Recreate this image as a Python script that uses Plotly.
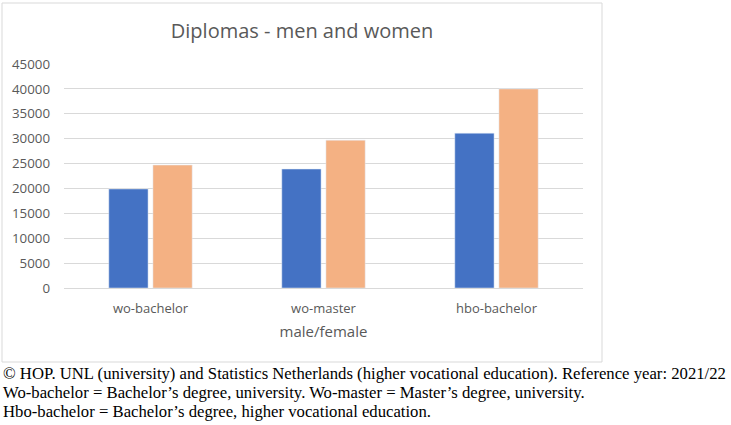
import plotly.graph_objects as go

categories = ["wo-bachelor", "wo-master", "hbo-bachelor"]
male = [19900, 23900, 31100]
female = [24700, 29700, 40000]
y_ticks = [0, 5000, 10000, 15000, 20000, 25000, 30000, 35000, 40000, 45000]

title_text = "Diplomas - men and women"
x_title = "male/female"
caption = [
    "© HOP. UNL (university) and Statistics Netherlands (higher vocational education). Reference year: 2021/22",
    "Wo-bachelor = Bachelor\u2019s degree, university. Wo-master = Master\u2019s degree, university.",
    "Hbo-bachelor = Bachelor\u2019s degree, higher vocational education.",
]

W, H = 731, 425
L, R, T, B = 64, 148, 64, 137
pw, ph = W - L - R, H - T - B


def px2x(px):
    return (px - L) / pw


def px2y(py):
    return (H - B - py) / ph


grey = "#595959"
chart_font = "Open Sans"

fig = go.Figure()
fig.add_trace(go.Bar(x=categories, y=male, name="male", marker_color="#4472C4"))
fig.add_trace(go.Bar(x=categories, y=female, name="female", marker_color="#F4B183"))

fig.update_layout(
    width=W,
    height=H,
    margin=dict(l=L, r=R, t=T, b=B, pad=0),
    paper_bgcolor="white",
    plot_bgcolor="white",
    showlegend=False,
    barmode="group",
    bargap=0.49,
    bargroupgap=0.11,
    font=dict(family=chart_font, color=grey, size=13),
    title=dict(
        text=title_text,
        font=dict(family=chart_font, size=20, color=grey),
        x=302 / W,
        xref="container",
        xanchor="center",
        y=1 - 31 / H,
        yref="container",
        yanchor="middle",
    ),
)

fig.update_xaxes(
    showgrid=False,
    showline=False,
    ticks="",
    ticklabelstandoff=11,
    tickfont=dict(size=13, color=grey),
    title=dict(text=x_title, font=dict(size=15, color=grey), standoff=10),
)
fig.update_yaxes(
    range=[0, 45000],
    tickvals=y_ticks,
    tickformat="d",
    showgrid=True,
    gridcolor="#d9d9d9",
    gridwidth=1,
    zeroline=True,
    zerolinecolor="#d9d9d9",
    zerolinewidth=1,
    showline=False,
    ticks="",
    ticklabelstandoff=13,
    tickfont=dict(size=13.3, color=grey),
)

# chart frame
fig.add_shape(
    type="rect",
    xref="paper",
    yref="paper",
    x0=px2x(2),
    x1=px2x(602),
    y0=px2y(362),
    y1=px2y(3),
    line=dict(color="#d9d9d9", width=1),
    fillcolor="rgba(0,0,0,0)",
    layer="below",
)

for i, line in enumerate(caption):
    fig.add_annotation(
        text=line,
        xref="paper",
        yref="paper",
        x=px2x(1),
        y=px2y(373 + 19 * i),
        xanchor="left",
        yanchor="middle",
        showarrow=False,
        font=dict(family="Liberation Serif", size=16.7, color="black"),
    )

# page body has a default 8px margin; drop it so the figure sits at the corner
fig.write_html(
    "out.html",
    config={"displayModeBar": False},
    post_script="document.body.style.margin='0';",
)
